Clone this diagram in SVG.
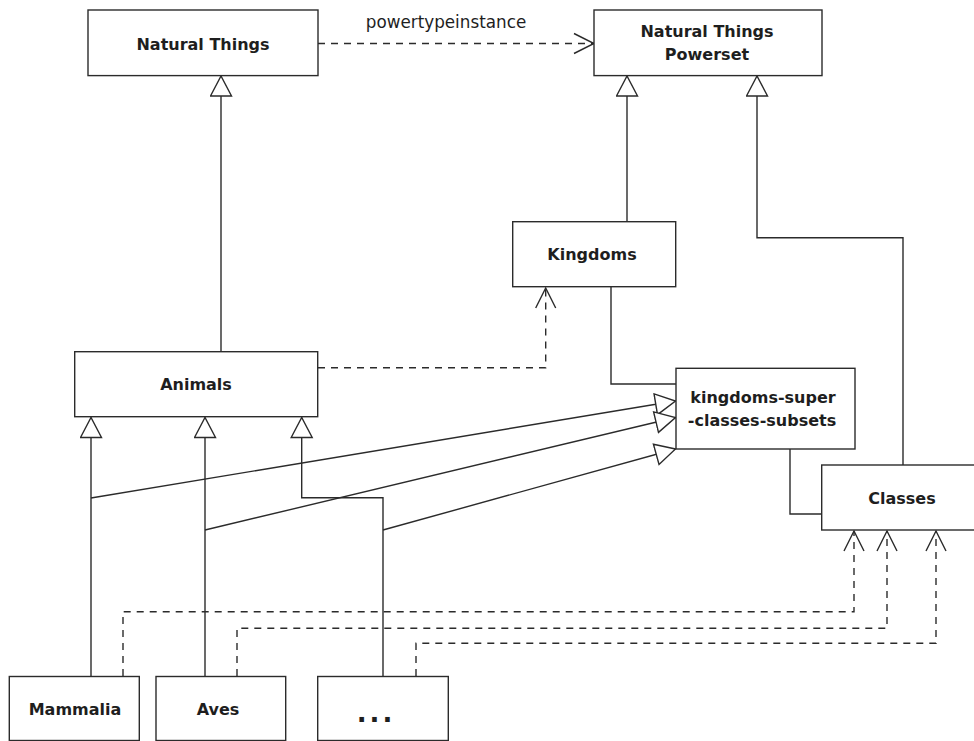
<svg xmlns="http://www.w3.org/2000/svg" width="974" height="741" viewBox="0 0 974 741">
<style>
.box{fill:#fff;stroke:#2b2b2b;stroke-width:1.4}
.t{font-family:"DejaVu Sans","Liberation Sans",sans-serif;font-weight:bold;font-size:16px;fill:#1e1e1e;text-anchor:middle}
.lbl{font-family:"DejaVu Sans","Liberation Sans",sans-serif;font-size:16.8px;fill:#1e1e1e;text-anchor:middle}
.c{fill:none;stroke:#2b2b2b;stroke-width:1.4}
.d{fill:none;stroke:#2b2b2b;stroke-width:1.4;stroke-dasharray:7 6}
.gen{marker-end:url(#tri)}
.dep{marker-end:url(#open)}
</style>
<defs>
<marker id="tri" markerUnits="userSpaceOnUse" markerWidth="24" markerHeight="24" viewBox="0 0 24 24" refX="21" refY="11.5" orient="auto">
<path d="M1,1 L21,11.5 L1,22 Z" fill="#fff" stroke="#2b2b2b" stroke-width="1.4" stroke-dasharray="none"/>
</marker>
<marker id="open" markerUnits="userSpaceOnUse" markerWidth="24" markerHeight="24" viewBox="0 0 24 24" refX="21" refY="11.5" orient="auto">
<path d="M1,1.5 L21,11.5 L1,21.5" fill="none" stroke="#2b2b2b" stroke-width="1.4" stroke-dasharray="none"/>
</marker>
</defs>

<g id="connectors">
<path class="d dep" d="M318,43.5 H594"/>
<text class="lbl" x="446" y="28">powertypeinstance</text>
<path class="c gen" d="M221,352 V76"/>
<path class="c gen" d="M627,222 V76"/>
<path class="c gen" d="M903,465 V237.7 H757 V76"/>
<path class="d dep" d="M318,367.7 H545.7 V288"/>
<path class="c" d="M611,287 V384 H676"/>
<path class="c" d="M790,449 V514 H822"/>
<path class="c gen" d="M91,676 V417.5"/>
<path class="c gen" d="M205,676 V417.5"/>
<path class="c gen" d="M383,676 V497.7 H301.7 V417.5"/>
<path class="c gen" d="M91,498 L675.5,401"/>
<path class="c gen" d="M205,530 L675.5,417.5"/>
<path class="c gen" d="M383,530 L675.5,449"/>
<path class="d dep" d="M123,676 V611.7 H854 V531"/>
<path class="d dep" d="M237,676 V628.3 H887 V531"/>
<path class="d dep" d="M416,676 V643.3 H936 V531"/>
</g>

<g id="natural-things">
<rect class="box" x="88" y="10" width="230" height="65.6"/>
<text class="t" x="203" y="49.5">Natural Things</text>
</g>
<g id="natural-things-powerset">
<rect class="box" x="594" y="10" width="228" height="65.6"/>
<text class="t" x="707" y="37">Natural Things</text>
<text class="t" x="707" y="60">Powerset</text>
</g>
<g id="kingdoms">
<rect class="box" x="512.7" y="221.7" width="163" height="65"/>
<text class="t" x="592" y="260">Kingdoms</text>
</g>
<g id="animals">
<rect class="box" x="74.7" y="351.7" width="243" height="65"/>
<text class="t" x="196" y="390">Animals</text>
</g>
<g id="kingdoms-super-classes-subsets">
<rect class="box" x="676" y="368.3" width="179" height="80.7"/>
<text class="t" x="763" y="403.3">kingdoms-super</text>
<text class="t" x="762" y="426">-classes-subsets</text>
</g>
<g id="classes">
<rect class="box" x="821.7" y="465" width="170" height="65"/>
<text class="t" x="902" y="503.5">Classes</text>
</g>
<g id="mammalia">
<rect class="box" x="9.3" y="676.5" width="130" height="64"/>
<text class="t" x="75" y="714.5">Mammalia</text>
</g>
<g id="aves">
<rect class="box" x="156" y="676.5" width="129.7" height="64"/>
<text class="t" x="218" y="714.5">Aves</text>
</g>
<g id="others">
<rect class="box" x="317.7" y="676.5" width="130.6" height="64"/>
<text class="t" x="376" y="722" style="font-size:26px;letter-spacing:3px">...</text>
</g>
</svg>
